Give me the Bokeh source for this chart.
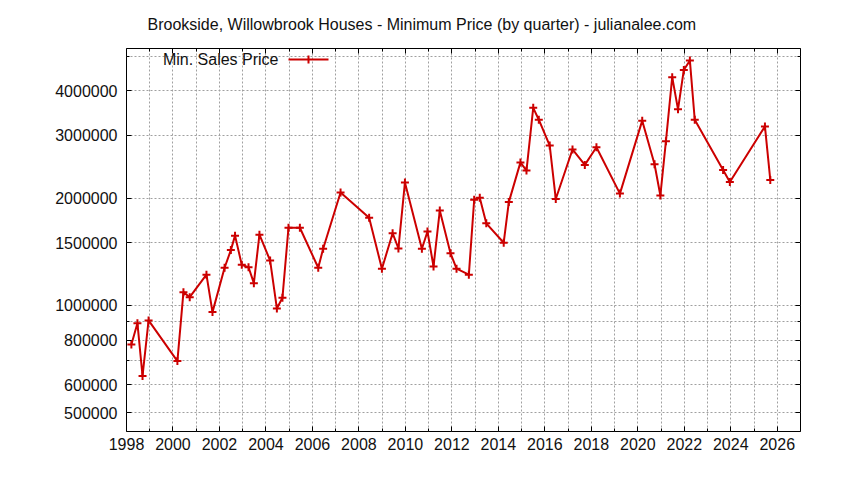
"""Brookside, Willowbrook houses: minimum sale price by quarter (log scale)."""

from bokeh.plotting import figure
from bokeh.models import (
    Range1d, FixedTicker, LinearAxis, LogAxis, NumeralTickFormatter,
    Label, Arrow, ColumnDataSource,
)
from bokeh.embed import file_html
from bokeh.resources import INLINE

FONT = "Liberation Sans"
RED = "#cc0000"
GRID = "#a0a0a0"

# quarter (fractional year) and minimum sale price
years = [
    1998.21, 1998.47, 1998.69, 1998.95, 2000.19, 2000.45, 2000.72, 2001.44,
    2001.70, 2002.22, 2002.49, 2002.67, 2002.96, 2003.25, 2003.48, 2003.72,
    2004.18, 2004.47, 2004.71, 2004.97, 2005.46, 2006.25, 2006.46, 2007.21,
    2008.44, 2008.99, 2009.45, 2009.70, 2009.98, 2010.71, 2010.95, 2011.21,
    2011.48, 2011.94, 2012.20, 2012.73, 2012.96, 2013.20, 2013.48, 2014.23,
    2014.45, 2014.95, 2015.21, 2015.50, 2015.74, 2016.21, 2016.47, 2017.19,
    2017.72, 2018.22, 2019.23, 2020.19, 2020.72, 2020.97, 2021.21, 2021.48,
    2021.73, 2021.98, 2022.24, 2022.45, 2023.67, 2023.96, 2025.47, 2025.70,
]
min_price = [
    777000, 892000, 634000, 908000, 698000, 1090000, 1055000, 1220000,
    958000, 1276000, 1430000, 1570000, 1300000, 1280000, 1155000, 1580000,
    1337000, 981000, 1051000, 1652000, 1652000, 1276000, 1442000, 2075000,
    1762000, 1268000, 1595000, 1445000, 2213000, 1442000, 1613000, 1286000,
    1847000, 1402000, 1268000, 1220000, 1980000, 2005000, 1700000, 1500000,
    1950000, 2520000, 2390000, 3586000, 3320000, 2810000, 1990000, 2740000,
    2480000, 2780000, 2060000, 3300000, 2490000, 2035000, 2890000, 4370000,
    3550000, 4580000, 4870000, 3320000, 2400000, 2220000, 3180000, 2250000,
]

x_ticks = list(range(1998, 2027, 2))
x_minor = list(range(1999, 2028, 2))
y_ticks = [500000, 600000, 800000, 1000000, 1500000, 2000000, 3000000, 4000000]
y_minor = [700000, 900000, 5000000]

title = "Brookside, Willowbrook Houses - Minimum Price (by quarter) - julianalee.com"
series_name = "Min. Sales Price"

FRAME_H = 383

p = figure(
    frame_width=674, frame_height=FRAME_H,
    min_border_left=126, min_border_right=36,
    min_border_top=48, min_border_bottom=41,
    x_range=Range1d(1998, 2027), y_range=Range1d(443000, 5260000),
    y_axis_type="log",
    output_backend="svg", toolbar_location=None,
    title=title,
)
p.title.align = "left"
p.title.offset = 21
p.title.standoff = 28
p.title.vertical_align = "top"
p.title.text_font = FONT
p.title.text_font_size = "16px"
p.title.text_font_style = "normal"
p.title.text_color = "#111111"

p.outline_line_color = "black"
p.outline_line_width = 1
p.background_fill_color = "white"
p.border_fill_color = "white"

xt = FixedTicker(ticks=x_ticks, minor_ticks=x_minor)
yt = FixedTicker(ticks=y_ticks, minor_ticks=y_minor)


def style_axis(ax, labels=True):
    ax.axis_line_color = None
    ax.major_tick_in = 5
    ax.major_tick_out = 0
    ax.minor_tick_in = 3
    ax.minor_tick_out = 0
    ax.major_tick_line_color = "black"
    ax.minor_tick_line_color = "black"
    ax.major_label_text_font = FONT
    ax.major_label_text_font_size = "16px"
    ax.major_label_text_color = "#111111"
    if not labels:
        ax.major_label_text_font_size = "0px"
        ax.major_label_standoff = 0


p.xaxis.ticker = xt
p.yaxis.ticker = yt
p.yaxis.formatter = NumeralTickFormatter(format="0")
style_axis(p.xaxis[0])
style_axis(p.yaxis[0])
p.xaxis.major_label_standoff = 6
p.yaxis.major_label_standoff = 9

# mirrored ticks on top and right
top = LinearAxis(ticker=xt, major_label_overrides={t: "" for t in x_ticks})
right = LogAxis(ticker=yt, major_label_overrides={t: "" for t in y_ticks})
style_axis(top, labels=False)
style_axis(right, labels=False)
p.add_layout(top, "above")
p.add_layout(right, "right")

for g in (p.xgrid[0], p.ygrid[0]):
    g.ticker = xt if g is p.xgrid[0] else yt
    g.grid_line_color = GRID
    g.grid_line_dash = "2 2"
    g.grid_line_width = 1
    g.minor_grid_line_color = GRID
    g.minor_grid_line_dash = "2 2"
    g.minor_grid_line_width = 1

src = ColumnDataSource(data=dict(x=years, y=min_price))
p.line("x", "y", source=src, line_color=RED, line_width=2)
p.scatter("x", "y", source=src, marker="cross", size=8,
          line_color=RED, line_width=2)

# gnuplot-style key: text first, then the sample line
key_y = FRAME_H - 11
p.add_layout(Label(
    x=152, y=key_y, x_units="screen", y_units="screen", text=series_name,
    text_align="right", text_baseline="middle",
    text_font=FONT, text_font_size="16px", text_color="#111111",
))
p.add_layout(Arrow(
    x_start=162, y_start=key_y, x_end=202, y_end=key_y,
    start_units="screen", end_units="screen", end=None,
    line_color=RED, line_width=2,
))
p.add_layout(Arrow(
    x_start=182, y_start=key_y - 4, x_end=182, y_end=key_y + 4,
    start_units="screen", end_units="screen", end=None,
    line_color=RED, line_width=2,
))

open("out.html", "w").write(file_html(p, INLINE))
